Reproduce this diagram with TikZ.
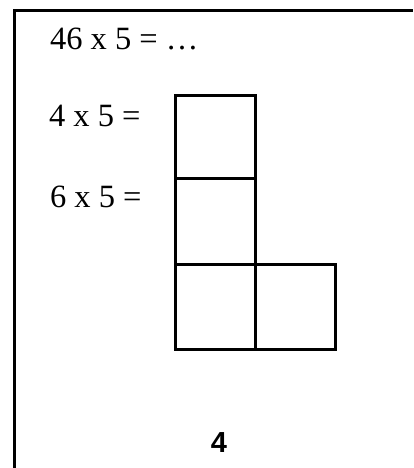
\documentclass[tikz,border=0pt]{standalone}
\usepackage{fontspec}
\setmainfont{Liberation Serif}
\newfontfamily\labelfont{Liberation Sans}
\usepackage{tikz}
\usetikzlibrary{positioning}

\begin{document}
\begin{tikzpicture}[x=1pt, y=-1pt, every node/.style={inner sep=0pt, outer sep=0pt}]
        \useasboundingbox (0,0) rectangle (413,468);
        % frame (only top and left edges show)
        \draw[line width=3pt] (14,468) -- (14,11) -- (413,11);
        % sums
        \node[anchor=base west, font=\fontsize{32.5}{36}\selectfont] (sum) at (50,50) {46 x 5 = …};
        \node[anchor=base west, font=\fontsize{32.5}{36}\selectfont] (suma) at (49,127) {4 x 5 =};
        \node[anchor=base west, font=\fontsize{32.5}{36}\selectfont] (sumb) at (50,207) {6 x 5 =};
        % answer boxes
        \node[draw, line width=3pt, rectangle, minimum width=80pt, minimum height=82pt] (boxa) at (215,137) {};
        \node[draw, line width=3pt, rectangle, minimum width=80pt, minimum height=86pt] (boxb) at (215,221) {};
        \node[draw, line width=3pt, rectangle, minimum width=80pt, minimum height=85pt] (boxc) at (215,306.5) {};
        \node[draw, line width=3pt, rectangle, minimum width=80pt, minimum height=85pt] (boxd) at (295,306.5) {};
        \node[font=\labelfont\bfseries\fontsize{29}{32}\selectfont] (num) at (219,443) {4};
    \end{tikzpicture}
\end{document}
